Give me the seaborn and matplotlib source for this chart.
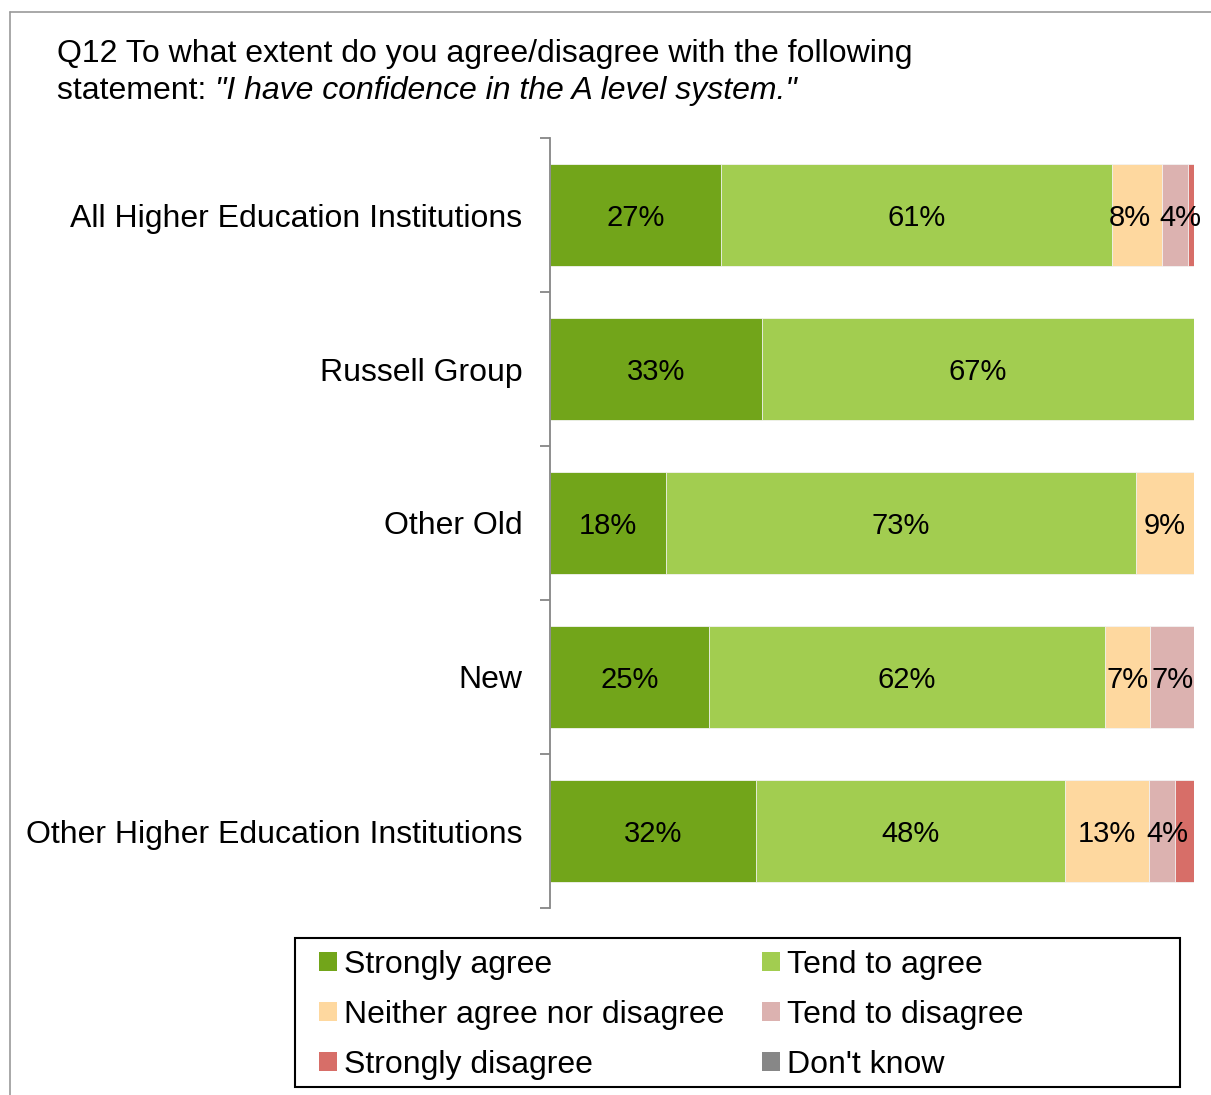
import numpy as np
import pandas as pd
import matplotlib
matplotlib.use("Agg")
import matplotlib.pyplot as plt
from matplotlib.patches import Patch, Rectangle
from matplotlib.lines import Line2D
import seaborn as sns

categories = ["All Higher Education Institutions", "Russell Group", "Other Old",
              "New", "Other Higher Education Institutions"]
series = ["Strongly agree", "Tend to agree", "Neither agree nor disagree",
          "Tend to disagree", "Strongly disagree", "Don't know"]
strongly_agree = [26.6, 32.9, 18.0, 24.7, 32.0]
tend_agree = [60.6, 67.1, 73.0, 61.5, 48.0]
neither = [7.9, 0.0, 9.0, 7.0, 13.0]
tend_disagree = [4.0, 0.0, 0.0, 6.8, 4.0]
strongly_disagree = [0.9, 0.0, 0.0, 0.0, 3.0]
dont_know = [0.0, 0.0, 0.0, 0.0, 0.0]
colors = ["#72A51A", "#A2CD50", "#FED89F", "#DCB2B0", "#D76E68", "#878787"]

values = [strongly_agree, tend_agree, neither, tend_disagree, strongly_disagree, dont_know]
df = pd.DataFrame(dict(zip(series, values)), index=categories)
cum = df.cumsum(axis=1)

# small nudges for crowded labels (row, series) -> shift in % units
label_shift = {(0, 2): -1.1, (0, 3): 0.8, (4, 3): 0.8}

sns.set_style("white")
plt.rcParams['font.family'] = ['Liberation Sans', 'DejaVu Sans']
plt.rcParams['text.color'] = 'black'
plt.rcParams['ytick.color'] = 'black'

fig = plt.figure(figsize=(12.11, 10.95), dpi=100)
ax = fig.add_axes([550 / 1211, 1 - 908 / 1095, 644 / 1211, 770 / 1095])

# stacked bars: draw cumulative totals from the right-most series backwards
for s, c in reversed(list(zip(series, colors))):
    sns.barplot(x=cum[s].values, y=categories, color=c, orient="h", width=0.66,
                saturation=1, errorbar=None, linewidth=0.6, edgecolor="#f4f4f4", ax=ax)

# labels centred in each segment
for i, cat in enumerate(categories):
    left = 0
    for j, s in enumerate(series):
        v = df.loc[cat, s]
        if v >= 3.5:
            ax.text(left + v / 2 + label_shift.get((i, j), 0), i + 0.02, f"{v:.0f}%",
                    ha="center", va="center", fontsize=21, color="black")
        left += v

ax.set_xlim(0, 100)
ax.set_ylim(4.5, -0.5)
ax.xaxis.set_visible(False)
for sp in ["top", "right", "bottom"]:
    ax.spines[sp].set_visible(False)
ax.spines["left"].set_color("#868686")
ax.spines["left"].set_linewidth(1.3)
ax.set_yticks(range(len(categories)))
ax.set_yticklabels(categories, fontsize=23)
ax.set_yticks(np.arange(-0.5, 5, 1), minor=True)
ax.tick_params(axis="y", which="major", left=False, length=0, pad=20)
ax.tick_params(axis="y", which="minor", left=True, length=7, width=1.3, color="#868686")
ax.set_ylabel("")

# title
fig.text(57 / 1211, 1 - 54 / 1095, "Q12 To what extent do you agree/disagree with the following",
         fontsize=23, va="center", ha="left")
t1 = fig.text(57 / 1211, 1 - 91 / 1095, "statement: ", fontsize=23, va="center", ha="left")
fig.canvas.draw()
bb = t1.get_window_extent()
fig.text(bb.x1 / 1211, 1 - 91 / 1095, "\"I have confidence in the A level system.\"",
         fontsize=23, va="center", ha="left", style="italic")

# legend (frame drawn separately to match the wide box)
handles = [Patch(facecolor=c, edgecolor="none") for c in colors]
order = [0, 2, 4, 1, 3, 5]
fig.legend([handles[i] for i in order], [series[i] for i in order],
           ncol=2, loc="upper left", bbox_to_anchor=(319 / 1211, 1 - 950 / 1095),
           fontsize=23, frameon=False,
           handlelength=0.55, handleheight=0.55, handletextpad=0.22,
           columnspacing=1.2, labelspacing=0.62, borderpad=0, borderaxespad=0)
fig.add_artist(Rectangle((295 / 1211, 1 - 1087 / 1095), 885 / 1211, 149 / 1095,
                         transform=fig.transFigure, fill=False, edgecolor="black", lw=1.5))

# outer frame lines
fig.add_artist(Line2D([10 / 1211, 1], [1 - 12 / 1095, 1 - 12 / 1095], color="#9a9a9a", lw=1.2))
fig.add_artist(Line2D([10 / 1211, 10 / 1211], [0, 1 - 12 / 1095], color="#9a9a9a", lw=1.2))

fig.savefig("out.png", dpi=100)
